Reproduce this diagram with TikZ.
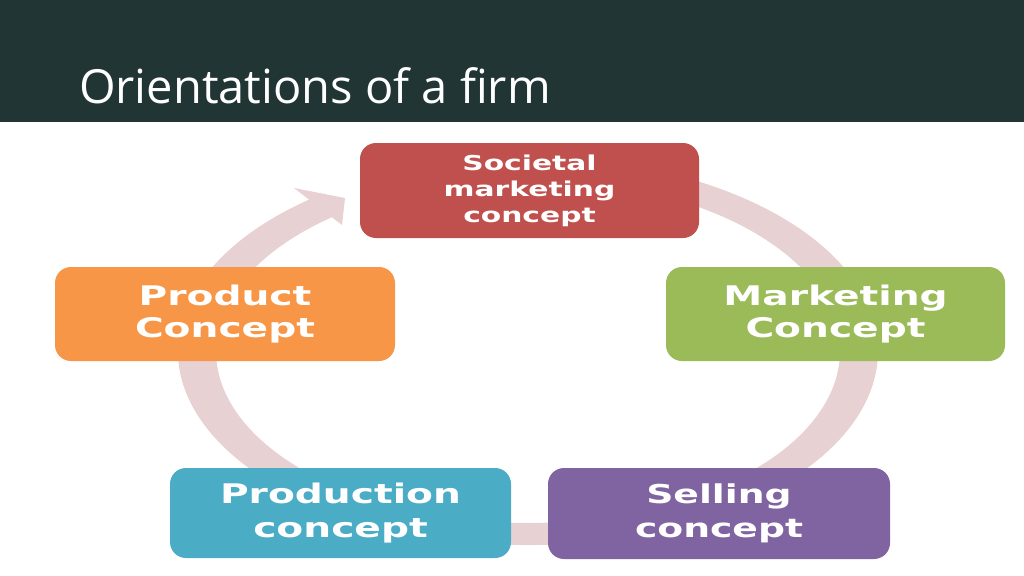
\documentclass[tikz,border=0pt]{standalone}
\usepackage{fontspec}
\usetikzlibrary{calc}
\newfontfamily\boxfont{DejaVu Sans}[FakeStretch=1.45]
\newfontfamily\titlefont{Open Sans}
\definecolor{bannerc}{HTML}{213535}
\definecolor{ringc}{HTML}{E7D1D2}
\definecolor{redc}{HTML}{C0504D}
\definecolor{orangec}{HTML}{F79646}
\definecolor{greenc}{HTML}{9BBB59}
\definecolor{tealc}{HTML}{4BACC6}
\definecolor{purplec}{HTML}{8064A2}
\tikzset{
  conceptbox/.style={rectangle, rounded corners=16pt, draw=none, text=white,
    align=center, inner sep=0pt, minimum width=340pt, minimum height=93pt,
    font=\boxfont\bfseries\fontsize{27}{32.5}\selectfont},
}
\begin{document}
\begin{tikzpicture}[x=1pt,y=-1pt]
\useasboundingbox (0,0) rectangle (1024,575);
\fill[white] (0,0) rectangle (1024,575);
% banner
\fill[bannerc] (0,0) rectangle (1024,122);
\node[anchor=base west, inner sep=0pt, text=white, font=\titlefont\fontsize{47}{56}\selectfont] (title) at (79,103) {Orientations of a firm};
% ring
\coordinate (c) at (528,351);
\fill[ringc] ($(c)+(280:350 and 194)$) arc[start angle=280, end angle=591.5, x radius=350, y radius=194]
  -- ($(c)+(591.5:312 and 172)$) arc[start angle=591.5, end angle=280, x radius=312, y radius=172] -- cycle;
\fill[ringc] (294,188) -- (345,198) -- (342,225) -- cycle;
% boxes
\node[conceptbox, fill=redc, minimum width=339pt, minimum height=95pt,
  font=\boxfont\bfseries\fontsize{20.5}{26}\selectfont] (soc) at (529.5,190.5) {Societal\\marketing\\concept};
\node[conceptbox, fill=orangec, minimum height=94pt] (prod) at (225,314) {Product\\Concept};
\node[conceptbox, fill=greenc, minimum width=339pt, minimum height=94pt] (mkt) at (835.5,314) {Marketing\\Concept};
\node[conceptbox, fill=tealc, minimum width=341pt, minimum height=90pt,
  font=\boxfont\bfseries\fontsize{27}{34}\selectfont] (pron) at (340.5,513) {Production\\concept};
\node[conceptbox, fill=purplec, minimum width=342pt, minimum height=91pt,
  font=\boxfont\bfseries\fontsize{26}{34}\selectfont] (sell) at (719,513.5) {Selling\\concept};
\end{tikzpicture}
\end{document}
